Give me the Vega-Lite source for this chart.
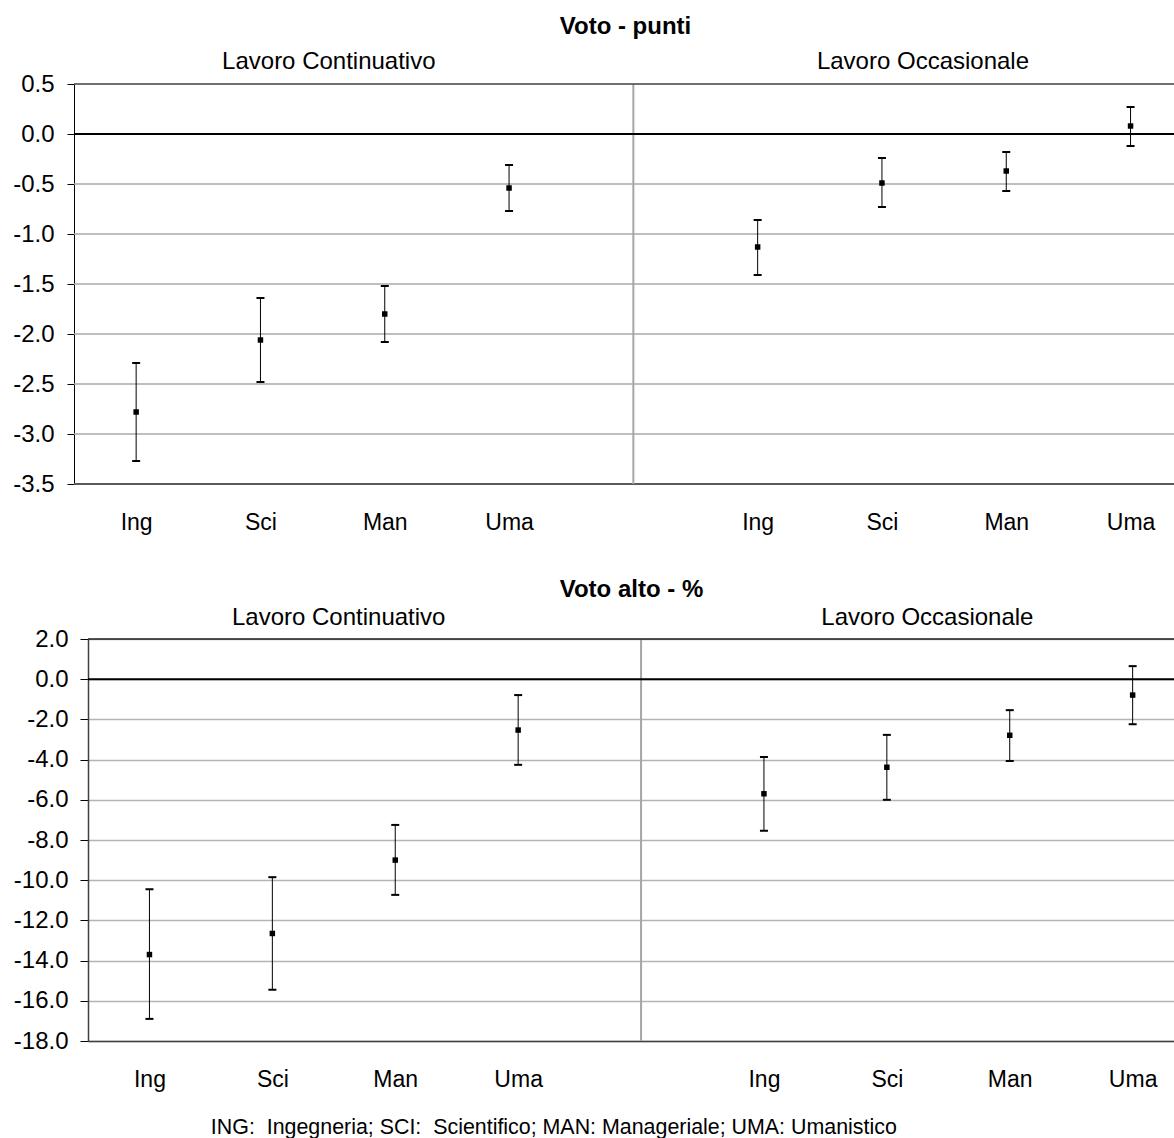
{
  "$schema": "https://vega.github.io/schema/vega-lite/v6.json",
  "padding": {"left": 12, "top": 14, "right": 0, "bottom": 0},
  "background": "white",
  "config": {
    "font": "Liberation Sans",
    "view": {"stroke": null},
    "title": {"color": "black", "font": "Liberation Sans"},
    "axis": {"labelFont": "Liberation Sans", "labelColor": "black", "labelFlush": false, "labelOverlap": false}
  },
  "datasets": {
    "stime": [
      {"misura": "Voto - punti", "lavoro": "Lavoro Continuativo", "area": "Ing", "pos": 1, "stima": -2.78, "lo": -3.27, "hi": -2.29},
      {"misura": "Voto - punti", "lavoro": "Lavoro Continuativo", "area": "Sci", "pos": 2, "stima": -2.06, "lo": -2.48, "hi": -1.64},
      {"misura": "Voto - punti", "lavoro": "Lavoro Continuativo", "area": "Man", "pos": 3, "stima": -1.80, "lo": -2.08, "hi": -1.52},
      {"misura": "Voto - punti", "lavoro": "Lavoro Continuativo", "area": "Uma", "pos": 4, "stima": -0.54, "lo": -0.77, "hi": -0.31},
      {"misura": "Voto - punti", "lavoro": "Lavoro Occasionale", "area": "Ing", "pos": 6, "stima": -1.13, "lo": -1.41, "hi": -0.86},
      {"misura": "Voto - punti", "lavoro": "Lavoro Occasionale", "area": "Sci", "pos": 7, "stima": -0.49, "lo": -0.73, "hi": -0.24},
      {"misura": "Voto - punti", "lavoro": "Lavoro Occasionale", "area": "Man", "pos": 8, "stima": -0.37, "lo": -0.57, "hi": -0.18},
      {"misura": "Voto - punti", "lavoro": "Lavoro Occasionale", "area": "Uma", "pos": 9, "stima": 0.08, "lo": -0.12, "hi": 0.27},
      {"misura": "Voto alto - %", "lavoro": "Lavoro Continuativo", "area": "Ing", "pos": 1, "stima": -13.7, "lo": -16.9, "hi": -10.45},
      {"misura": "Voto alto - %", "lavoro": "Lavoro Continuativo", "area": "Sci", "pos": 2, "stima": -12.65, "lo": -15.45, "hi": -9.85},
      {"misura": "Voto alto - %", "lavoro": "Lavoro Continuativo", "area": "Man", "pos": 3, "stima": -9.0, "lo": -10.73, "hi": -7.25},
      {"misura": "Voto alto - %", "lavoro": "Lavoro Continuativo", "area": "Uma", "pos": 4, "stima": -2.53, "lo": -4.26, "hi": -0.79},
      {"misura": "Voto alto - %", "lavoro": "Lavoro Occasionale", "area": "Ing", "pos": 6, "stima": -5.7, "lo": -7.54, "hi": -3.87},
      {"misura": "Voto alto - %", "lavoro": "Lavoro Occasionale", "area": "Sci", "pos": 7, "stima": -4.38, "lo": -6.0, "hi": -2.77},
      {"misura": "Voto alto - %", "lavoro": "Lavoro Occasionale", "area": "Man", "pos": 8, "stima": -2.79, "lo": -4.07, "hi": -1.54},
      {"misura": "Voto alto - %", "lavoro": "Lavoro Occasionale", "area": "Uma", "pos": 9, "stima": -0.79, "lo": -2.24, "hi": 0.65}
    ],
    "griglia_punti": [{"v": -3.0}, {"v": -2.5}, {"v": -2.0}, {"v": -1.5}, {"v": -1.0}, {"v": -0.5}],
    "uno": [{}]
  },
  "title": {
    "text": "ING: \u00a0Ingegneria; SCI: \u00a0Scientifico; MAN: Manageriale; UMA: Umanistico",
    "orient": "bottom", "anchor": "middle", "frame": "bounds", "dx": -40.5,
    "fontSize": 21.4, "fontWeight": "normal", "offset": 26
  },
  "spacing": 43,
  "vconcat": [
    {
      "title": {"text": "Voto - punti", "fontSize": 24, "fontWeight": "bold", "frame": "group", "anchor": "middle", "offset": 11, "dx": -6},
      "width": 1087,
      "height": 400,
      "layer": [
        {
          "data": {"name": "griglia_punti"},
          "mark": {"type": "rule", "color": "#a8a8a8", "strokeWidth": 1.5},
          "encoding": {
            "x": {"datum": 0.5, "type": "quantitative", "scale": {"domain": [0.6126, 9.3576], "nice": false, "zero": false}},
            "x2": {"datum": 9.3576},
            "y": {"field": "v", "type": "quantitative", "scale": {"domain": [-3.5, 0.5], "nice": false, "zero": false}}
          }
        },
        {
          "data": {"name": "uno"},
          "mark": {"type": "rule", "color": "#595959", "strokeWidth": 2},
          "encoding": {
            "x": {"datum": 0.5, "type": "quantitative", "scale": {"domain": [0.6126, 9.3576], "nice": false, "zero": false}},
            "x2": {"datum": 9.3576},
            "y": {"datum": -3.5, "type": "quantitative", "scale": {"domain": [-3.5, 0.5], "nice": false, "zero": false}}
          }
        },
        {
          "data": {"name": "uno"},
          "mark": {"type": "rule", "color": "#a6a6a6", "strokeWidth": 2},
          "encoding": {"x": {"datum": 5, "type": "quantitative", "scale": {"domain": [0.6126, 9.3576], "nice": false, "zero": false}}}
        },
        {
          "data": {"name": "uno"},
          "mark": {"type": "rule", "color": "#404040", "strokeWidth": 1.5},
          "encoding": {
            "x": {"datum": 0.5, "type": "quantitative", "scale": {"domain": [0.6126, 9.3576], "nice": false, "zero": false}},
            "x2": {"datum": 9.3576},
            "y": {"datum": 0.5, "type": "quantitative", "scale": {"domain": [-3.5, 0.5], "nice": false, "zero": false}}
          }
        },
        {
          "data": {"name": "uno"},
          "mark": {"type": "rule", "color": "black", "strokeWidth": 2},
          "encoding": {
            "x": {"datum": 0.5, "type": "quantitative", "scale": {"domain": [0.6126, 9.3576], "nice": false, "zero": false}},
            "x2": {"datum": 9.3576},
            "y": {"datum": 0, "type": "quantitative", "scale": {"domain": [-3.5, 0.5], "nice": false, "zero": false}}
          }
        },
        {
          "data": {"name": "stime"},
          "transform": [{"filter": "datum.misura === 'Voto - punti'"}],
          "mark": {"type": "rule", "color": "black", "strokeWidth": 1},
          "encoding": {
            "x": {"field": "pos", "type": "quantitative", "scale": {"domain": [0.6126, 9.3576], "nice": false, "zero": false}},
            "y": {"field": "lo", "type": "quantitative", "scale": {"domain": [-3.5, 0.5], "nice": false, "zero": false}},
            "y2": {"field": "hi"}
          }
        },
        {
          "data": {"name": "stime"},
          "transform": [{"filter": "datum.misura === 'Voto - punti'"}],
          "mark": {"type": "tick", "color": "black", "orient": "horizontal", "size": 8, "thickness": 2, "opacity": 1},
          "encoding": {
            "x": {"field": "pos", "type": "quantitative", "scale": {"domain": [0.6126, 9.3576], "nice": false, "zero": false}},
            "y": {"field": "lo", "type": "quantitative", "scale": {"domain": [-3.5, 0.5], "nice": false, "zero": false}}
          }
        },
        {
          "data": {"name": "stime"},
          "transform": [{"filter": "datum.misura === 'Voto - punti'"}],
          "mark": {"type": "tick", "color": "black", "orient": "horizontal", "size": 8, "thickness": 2, "opacity": 1},
          "encoding": {
            "x": {"field": "pos", "type": "quantitative", "scale": {"domain": [0.6126, 9.3576], "nice": false, "zero": false}},
            "y": {"field": "hi", "type": "quantitative", "scale": {"domain": [-3.5, 0.5], "nice": false, "zero": false}}
          }
        },
        {
          "data": {"values": [{"lavoro": "Lavoro Continuativo"}]},
          "mark": {"type": "text", "fontSize": 24, "baseline": "alphabetic", "align": "center", "color": "black"},
          "encoding": {
            "x": {"datum": 2.55, "type": "quantitative", "scale": {"domain": [0.6126, 9.3576], "nice": false, "zero": false}},
            "y": {"datum": 0.65, "type": "quantitative", "scale": {"domain": [-3.5, 0.5], "nice": false, "zero": false}},
            "text": {"field": "lavoro"}
          }
        },
        {
          "data": {"values": [{"lavoro": "Lavoro Occasionale"}]},
          "mark": {"type": "text", "fontSize": 24, "baseline": "alphabetic", "align": "center", "color": "black"},
          "encoding": {
            "x": {"datum": 7.33, "type": "quantitative", "scale": {"domain": [0.6126, 9.3576], "nice": false, "zero": false}},
            "y": {"datum": 0.65, "type": "quantitative", "scale": {"domain": [-3.5, 0.5], "nice": false, "zero": false}},
            "text": {"field": "lavoro"}
          }
        },
        {
          "data": {"name": "stime"},
          "transform": [{"filter": "datum.misura === 'Voto - punti'"}],
          "mark": {"type": "square", "size": 30, "color": "black", "opacity": 1},
          "encoding": {
            "x": {"field": "pos", "type": "quantitative", "scale": {"domain": [0.6126, 9.3576], "nice": false, "zero": false},
              "axis": {"title": null, "values": [1, 2, 3, 4, 6, 7, 8, 9], "labelExpr": "['', 'Ing', 'Sci', 'Man', 'Uma', '', 'Ing', 'Sci', 'Man', 'Uma'][datum.value]", "ticks": false, "grid": false, "domain": false, "labelFontSize": 23, "labelPadding": 27}},
            "y": {"field": "stima", "type": "quantitative", "scale": {"domain": [-3.5, 0.5], "nice": false, "zero": false},
              "axis": {"title": null, "offset": 14, "values": [-3.5, -3, -2.5, -2, -1.5, -1, -0.5, 0, 0.5], "labelExpr": "replace(format(datum.value, '.1f'), '\u2212', '-')", "tickSize": 7, "tickColor": "black", "domainColor": "black", "domainWidth": 1, "labelFontSize": 24, "labelPadding": 13, "grid": false}}
          }
        }
      ]
    },
    {
      "title": {"text": "Voto alto - %", "fontSize": 24, "fontWeight": "bold", "frame": "group", "anchor": "middle", "offset": 4},
      "width": 1087,
      "height": 402,
      "layer": [
        {
          "data": {"name": "stime"},
          "transform": [{"filter": "datum.misura === 'Voto alto - %'"}],
          "mark": {"type": "square", "size": 30, "color": "black", "opacity": 1},
          "encoding": {
            "x": {"field": "pos", "type": "quantitative", "scale": {"domain": [0.5, 9.3446], "nice": false, "zero": false},
              "axis": {"title": null, "values": [1, 2, 3, 4, 6, 7, 8, 9], "labelExpr": "['', 'Ing', 'Sci', 'Man', 'Uma', '', 'Ing', 'Sci', 'Man', 'Uma'][datum.value]", "ticks": false, "grid": false, "domainColor": "#404040", "domainWidth": 1.5, "labelFontSize": 23, "labelPadding": 27}},
            "y": {"field": "stima", "type": "quantitative", "scale": {"domain": [-18, 2], "nice": false, "zero": false},
              "axis": {"title": null, "values": [-18, -16, -14, -12, -10, -8, -6, -4, -2, 0, 2], "labelExpr": "replace(format(datum.value, '.1f'), '\u2212', '-')", "tickSize": 8, "tickColor": "black", "domainColor": "#404040", "domainWidth": 1.5, "labelFontSize": 24, "labelPadding": 12, "grid": true, "gridColor": "#b4b4b4", "gridWidth": 1.5}}
          }
        },
        {
          "data": {"name": "uno"},
          "mark": {"type": "rule", "color": "#a6a6a6", "strokeWidth": 2},
          "encoding": {"x": {"datum": 5, "type": "quantitative", "scale": {"domain": [0.5, 9.3446], "nice": false, "zero": false}}}
        },
        {
          "data": {"name": "uno"},
          "mark": {"type": "rule", "color": "#202020", "strokeWidth": 1.5},
          "encoding": {"y": {"datum": 2, "type": "quantitative", "scale": {"domain": [-18, 2], "nice": false, "zero": false}}}
        },
        {
          "data": {"name": "uno"},
          "mark": {"type": "rule", "color": "black", "strokeWidth": 2},
          "encoding": {"y": {"datum": 0, "type": "quantitative", "scale": {"domain": [-18, 2], "nice": false, "zero": false}}}
        },
        {
          "data": {"name": "stime"},
          "transform": [{"filter": "datum.misura === 'Voto alto - %'"}],
          "mark": {"type": "rule", "color": "black", "strokeWidth": 1},
          "encoding": {
            "x": {"field": "pos", "type": "quantitative", "scale": {"domain": [0.5, 9.3446], "nice": false, "zero": false}},
            "y": {"field": "lo", "type": "quantitative", "scale": {"domain": [-18, 2], "nice": false, "zero": false}},
            "y2": {"field": "hi"}
          }
        },
        {
          "data": {"name": "stime"},
          "transform": [{"filter": "datum.misura === 'Voto alto - %'"}],
          "mark": {"type": "tick", "color": "black", "orient": "horizontal", "size": 8, "thickness": 2, "opacity": 1},
          "encoding": {
            "x": {"field": "pos", "type": "quantitative", "scale": {"domain": [0.5, 9.3446], "nice": false, "zero": false}},
            "y": {"field": "lo", "type": "quantitative", "scale": {"domain": [-18, 2], "nice": false, "zero": false}}
          }
        },
        {
          "data": {"name": "stime"},
          "transform": [{"filter": "datum.misura === 'Voto alto - %'"}],
          "mark": {"type": "tick", "color": "black", "orient": "horizontal", "size": 8, "thickness": 2, "opacity": 1},
          "encoding": {
            "x": {"field": "pos", "type": "quantitative", "scale": {"domain": [0.5, 9.3446], "nice": false, "zero": false}},
            "y": {"field": "hi", "type": "quantitative", "scale": {"domain": [-18, 2], "nice": false, "zero": false}}
          }
        },
        {
          "data": {"values": [{"lavoro": "Lavoro Continuativo"}]},
          "mark": {"type": "text", "fontSize": 24, "baseline": "alphabetic", "align": "center", "color": "black"},
          "encoding": {
            "x": {"datum": 2.54, "type": "quantitative", "scale": {"domain": [0.5, 9.3446], "nice": false, "zero": false}},
            "y": {"datum": 2.715, "type": "quantitative", "scale": {"domain": [-18, 2], "nice": false, "zero": false}},
            "text": {"field": "lavoro"}
          }
        },
        {
          "data": {"values": [{"lavoro": "Lavoro Occasionale"}]},
          "mark": {"type": "text", "fontSize": 24, "baseline": "alphabetic", "align": "center", "color": "black"},
          "encoding": {
            "x": {"datum": 7.33, "type": "quantitative", "scale": {"domain": [0.5, 9.3446], "nice": false, "zero": false}},
            "y": {"datum": 2.715, "type": "quantitative", "scale": {"domain": [-18, 2], "nice": false, "zero": false}},
            "text": {"field": "lavoro"}
          }
        }
      ]
    }
  ]
}
